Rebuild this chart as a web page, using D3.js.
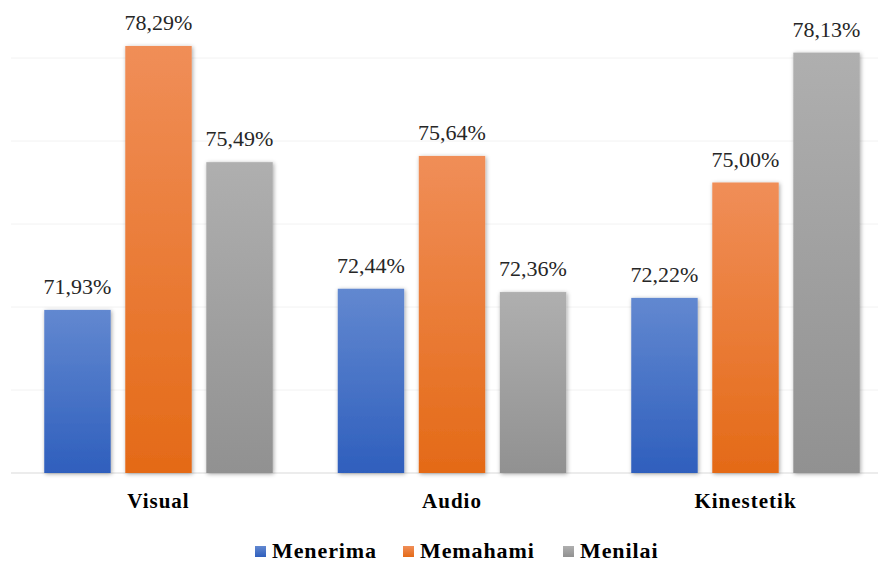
<!DOCTYPE html>
<html><head><meta charset="utf-8">
<script src="https://cdn.jsdelivr.net/npm/d3@7"></script>
<style>
body{margin:0;background:#fff}svg{display:block}
text{font-family:"Liberation Serif","Times New Roman",serif;}
</style>
</head><body>
<svg id="c" width="878" height="562"></svg>
<script>
const categories = ["Visual", "Audio", "Kinestetik"];
const seriesNames = ["Menerima", "Memahami", "Menilai"];
const menerima = [71.93, 72.44, 72.22];
const memahami = [78.29, 75.64, 75.00];
const menilai = [75.49, 72.36, 78.13];
const yTicks = [68, 70, 72, 74, 76, 78];

const values = [menerima, memahami, menilai];
const colors = [
  {top:"#6288d0", bot:"#2f5fbd"},
  {top:"#f08e58", bot:"#e46a17"},
  {top:"#afafaf", bot:"#919191"}
];
const svg = d3.select("#c");
const defs = svg.append("defs");
colors.forEach((c,i)=>{
  const g = defs.append("linearGradient").attr("id","g"+i).attr("x1",0).attr("y1",0).attr("x2",0).attr("y2",1);
  g.append("stop").attr("offset","0%").attr("stop-color",c.top);
  g.append("stop").attr("offset","100%").attr("stop-color",c.bot);
});
const f = defs.append("filter").attr("id","sh").attr("x","-20%").attr("y","-10%").attr("width","140%").attr("height","120%");
f.append("feDropShadow").attr("dx",1).attr("dy",1).attr("stdDeviation",2).attr("flood-color","#000").attr("flood-opacity",0.35);

const x0 = d3.scaleBand().domain(categories).range([11.75, 892.25]).paddingInner(0).paddingOuter(0);
const x1 = d3.scaleBand().domain(seriesNames).range([32.5, 293.5-32.5]).paddingInner(0.18).paddingOuter(0);
const y = d3.scaleLinear().domain([68, 78]).range([473, 58]);

svg.append("g").selectAll("line").data(yTicks).join("line")
  .attr("x1", 11).attr("x2", 878)
  .attr("y1", d=>y(d)).attr("y2", d=>y(d))
  .attr("stroke", d=> d===68 ? "#d9d9d9" : "#f2f2f2").attr("stroke-width",1);

const groups = svg.append("g").selectAll("g").data(categories).join("g")
  .attr("transform", d=>`translate(${x0(d)},0)`);

groups.each(function(cat, ci){
  const g = d3.select(this);
  seriesNames.forEach((s, si)=>{
    const v = values[si][ci];
    g.append("rect")
      .attr("x", x1(s)).attr("width", x1.bandwidth())
      .attr("y", y(v)).attr("height", y(68)-y(v))
      .attr("fill", `url(#g${si})`).attr("filter","url(#sh)");
    g.append("text")
      .attr("x", x1(s)+x1.bandwidth()/2).attr("y", y(v)-16)
      .attr("text-anchor","middle")
      .attr("font-size", 22).attr("fill","#262626")
      .text(v.toFixed(2).replace(".", ",") + "%");
  });
  g.append("text")
    .attr("x", x0.bandwidth()/2).attr("y", 508)
    .attr("text-anchor","middle")
    .attr("font-weight","bold")
    .attr("font-size", 21).attr("letter-spacing", 1).attr("fill","#000")
    .text(cat);
});

const legendX = [255, 403, 563];
const lg = svg.append("g");
seriesNames.forEach((s,i)=>{
  lg.append("rect").attr("x", legendX[i]).attr("y", 546).attr("width", 11).attr("height", 11)
    .attr("fill", `url(#g${i})`);
  lg.append("text").attr("x", legendX[i]+17).attr("y", 558)
    .attr("font-weight","bold").attr("font-size", 22).attr("letter-spacing", 0.9).attr("fill","#000")
    .text(s);
});
</script>
</body></html>
